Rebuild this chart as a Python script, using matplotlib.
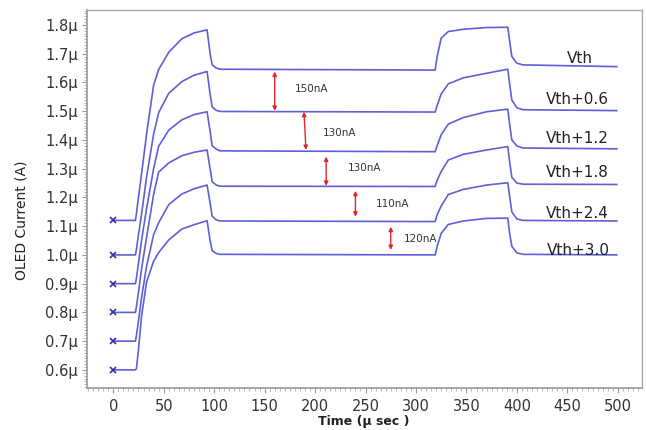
import matplotlib
matplotlib.use("Agg")
import matplotlib.pyplot as plt
from matplotlib.ticker import FixedLocator, MultipleLocator

# ---------------- data ----------------
time_us = [0, 22, 23, 25, 28, 33, 40, 45, 55, 68, 80, 93, 96, 98, 102, 106,
           319, 321, 325, 332, 347, 370, 391, 393, 395, 400, 406, 499]

i_vth   = [1.12, 1.12, 1.145, 1.20, 1.28, 1.42, 1.59, 1.645, 1.705, 1.752, 1.772, 1.783,
           1.70, 1.662, 1.650, 1.646, 1.643, 1.69, 1.754, 1.777, 1.785, 1.791, 1.792,
           1.74, 1.69, 1.667, 1.661, 1.655]
i_vth06 = [1.00, 1.00, 1.02, 1.07, 1.14, 1.27, 1.42, 1.495, 1.562, 1.603, 1.625, 1.638,
           1.56, 1.515, 1.503, 1.499, 1.497, 1.52, 1.56, 1.595, 1.616, 1.632, 1.646,
           1.59, 1.539, 1.512, 1.505, 1.502]
i_vth12 = [0.90, 0.90, 0.92, 0.97, 1.05, 1.16, 1.30, 1.378, 1.434, 1.47, 1.488, 1.498,
           1.43, 1.38, 1.368, 1.362, 1.359, 1.38, 1.418, 1.455, 1.478, 1.498, 1.507,
           1.45, 1.40, 1.379, 1.372, 1.369]
i_vth18 = [0.80, 0.80, 0.82, 0.87, 0.95, 1.06, 1.21, 1.288, 1.32, 1.345, 1.357, 1.365,
           1.30, 1.255, 1.243, 1.239, 1.238, 1.26, 1.29, 1.33, 1.35, 1.365, 1.377,
           1.32, 1.27, 1.25, 1.246, 1.245]
i_vth24 = [0.70, 0.70, 0.72, 0.77, 0.85, 0.96, 1.07, 1.112, 1.175, 1.212, 1.23, 1.243,
           1.18, 1.135, 1.122, 1.118, 1.116, 1.14, 1.17, 1.21, 1.228, 1.243, 1.251,
           1.20, 1.15, 1.125, 1.12, 1.118]
i_vth30 = [0.60, 0.60, 0.605, 0.67, 0.785, 0.905, 0.978, 1.008, 1.052, 1.09, 1.105, 1.119,
           1.05, 1.015, 1.005, 1.002, 1.000, 1.03, 1.075, 1.106, 1.118, 1.127, 1.128,
           1.07, 1.03, 1.007, 1.002, 1.000]

series_names = ["Vth", "Vth+0.6", "Vth+1.2", "Vth+1.8", "Vth+2.4", "Vth+3.0"]
series_values = [i_vth, i_vth06, i_vth12, i_vth18, i_vth24, i_vth30]
name_label_t = [462, 460, 460, 460, 460, 461]
name_label_v = [1.668, 1.525, 1.39, 1.271, 1.129, 1.0]

# red difference arrows
arrow_t_top = [160, 189, 211, 240, 275]
arrow_t_bot = [160, 191, 211, 240, 275]
arrow_v_top = [1.638, 1.498, 1.342, 1.223, 1.098]
arrow_v_bot = [1.501, 1.365, 1.240, 1.133, 1.017]
arrow_labels = ["150nA", "130nA", "130nA", "110nA", "120nA"]
arrow_label_t = [180, 208, 232, 260, 288]
arrow_label_v = [1.577, 1.424, 1.303, 1.177, 1.056]

x_ticks = [0, 50, 100, 150, 200, 250, 300, 350, 400, 450, 500]
y_ticks = [0.6, 0.7, 0.8, 0.9, 1.0, 1.1, 1.2, 1.3, 1.4, 1.5, 1.6, 1.7, 1.8]
y_tick_labels = ["0.6μ", "0.7μ", "0.8μ", "0.9μ", "1.0μ", "1.1μ", "1.2μ",
                 "1.3μ", "1.4μ", "1.5μ", "1.6μ", "1.7μ", "1.8μ"]

# ---------------- drawing ----------------
plt.rcParams['font.family'] = ['DejaVu Sans']
fig = plt.figure(figsize=(6.46, 4.30), dpi=100)
fig.patch.set_facecolor('white')
ax = fig.add_axes([87/646, 1-388/430, (642-87)/646, (388-10)/430])

line_color = '#5f5fd8'
for vals in series_values:
    ax.plot(time_us, vals, color=line_color, lw=1.2, solid_joinstyle='round')
    ax.plot([time_us[0]], [vals[0]], marker='x', color='#3030a8', ms=4.5, mew=1.2,
            linestyle='none')

for name, lt, lv in zip(series_names, name_label_t, name_label_v):
    ax.text(lt, lv, name, ha='center', va='baseline', fontsize=11, color='#222222')

for tt, tb, vt, vb, lab, lt, lv in zip(arrow_t_top, arrow_t_bot, arrow_v_top, arrow_v_bot,
                                       arrow_labels, arrow_label_t, arrow_label_v):
    ax.annotate('', xy=(tb, vb), xytext=(tt, vt),
                arrowprops=dict(arrowstyle='<|-|>', color='#e02828', lw=1.0,
                                mutation_scale=6, shrinkA=0, shrinkB=0))
    ax.text(lt, lv, lab, ha='left', va='center', fontsize=7.5, color='#333333')

ax.set_xlim(-26, 524)
ax.set_ylim(0.537, 1.852)
ax.xaxis.set_major_locator(FixedLocator(x_ticks))
ax.xaxis.set_minor_locator(MultipleLocator(5))
ax.yaxis.set_major_locator(FixedLocator(y_ticks))
ax.yaxis.set_minor_locator(MultipleLocator(0.01))
ax.set_xticklabels([str(v) for v in x_ticks], fontsize=10.5, color='#333333')
ax.set_yticklabels(y_tick_labels, fontsize=10.5, color='#333333')
ax.tick_params(axis='both', which='major', length=3.5, width=0.8, color='#999999')
ax.tick_params(axis='both', which='minor', length=2.5, width=0.6, color='#aaaaaa')
ax.tick_params(axis='x', which='major', pad=4.5)
ax.tick_params(axis='y', which='major', pad=3)
for side in ['left', 'bottom']:
    ax.spines[side].set_color('#999999')
    ax.spines[side].set_linewidth(1.2)
for side in ['right', 'top']:
    ax.spines[side].set_color('#aaaaaa')
    ax.spines[side].set_linewidth(1.0)

fig.text(364/646, 1-422/430, "Time (μ sec )", ha='center', va='center',
         fontsize=9, fontweight='bold', color='#222222')
fig.text(22/646, 1-220/430, "OLED Current (A)", rotation=90, ha='center', va='center',
         fontsize=10, color='#222222')

fig.savefig("out.png", dpi=100, facecolor='white')
